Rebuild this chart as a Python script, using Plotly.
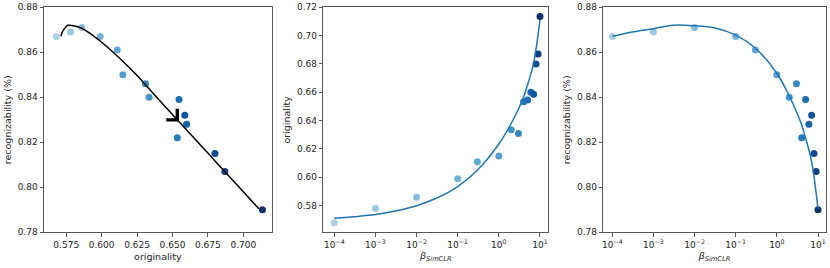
import plotly.graph_objects as go

# ---- data ----
beta = [1e-4, 1e-3, 1e-2, 0.1, 0.3, 1, 2, 3, 4, 5, 6, 7, 8, 9, 10]
originality = [0.568, 0.578, 0.586, 0.599, 0.611, 0.615, 0.6335, 0.631,
               0.6534, 0.6546, 0.660, 0.6587, 0.680, 0.687, 0.7135]
recognizability = [0.867, 0.869, 0.871, 0.867, 0.861, 0.850, 0.840, 0.846,
                   0.822, 0.839, 0.828, 0.832, 0.815, 0.807, 0.790]

# fitted curves (at these beta values)
beta_fit = [1e-4, 3e-4, 1e-3, 3e-3, 1e-2, 3e-2, 0.1, 0.3, 1, 2, 3, 4, 5, 6, 7, 8, 9, 10]
orig_fit = [0.5712, 0.5722, 0.5737, 0.5762, 0.5800, 0.5852, 0.5935, 0.6050, 0.6235,
            0.6380, 0.6482, 0.6566, 0.6654, 0.6730, 0.6805, 0.6903, 0.7008, 0.7110]
recog_fit = [0.8671, 0.8690, 0.8705, 0.8720, 0.8718, 0.8709, 0.8676, 0.8618, 0.8507,
             0.8406, 0.8336, 0.8278, 0.8218, 0.8166, 0.8114, 0.8047, 0.7975, 0.7905]

arrow_point = (0.6546, 0.8292)

x1_ticks = [0.575, 0.600, 0.625, 0.650, 0.675, 0.700]
x1_ticktext = ["0.575", "0.600", "0.625", "0.650", "0.675", "0.700"]
y_recog_ticks = [0.78, 0.80, 0.82, 0.84, 0.86, 0.88]
y_orig_ticks = [0.58, 0.60, 0.62, 0.64, 0.66, 0.68, 0.70, 0.72]
log_ticks = [1e-4, 1e-3, 1e-2, 1e-1, 1, 10]
log_ticktext = ["10<sup>\u22124</sup>", "10<sup>\u22123</sup>", "10<sup>\u22122</sup>",
                "10<sup>\u22121</sup>", "10<sup>0</sup>", "10<sup>1</sup>"]

# ---- styling ----
FONT = "DejaVu Sans"
TXT = "#262626"
SPINE = "#555555"
color_idx = list(range(len(beta)))
marker = dict(color=color_idx, colorscale="Blues", cmin=-7, cmax=len(beta) - 1,
              size=7, line=dict(width=0))

fig = go.Figure()

# left: recognizability vs originality
fig.add_trace(go.Scatter(x=originality, y=recognizability, mode="markers",
                         marker=marker, xaxis="x", yaxis="y", showlegend=False))
fig.add_trace(go.Scatter(x=orig_fit, y=recog_fit, mode="lines",
                         line=dict(color="black", width=1.5, shape="spline", smoothing=1.0),
                         xaxis="x", yaxis="y", showlegend=False))

# middle: originality vs beta
fig.add_trace(go.Scatter(x=beta, y=originality, mode="markers",
                         marker=marker, xaxis="x2", yaxis="y2", showlegend=False))
fig.add_trace(go.Scatter(x=beta_fit, y=orig_fit, mode="lines",
                         line=dict(color="#1f77b4", width=1.5, shape="spline", smoothing=1.0),
                         xaxis="x2", yaxis="y2", showlegend=False))

# right: recognizability vs beta
fig.add_trace(go.Scatter(x=beta, y=recognizability, mode="markers",
                         marker=marker, xaxis="x3", yaxis="y3", showlegend=False))
fig.add_trace(go.Scatter(x=beta_fit, y=recog_fit, mode="lines",
                         line=dict(color="#1f77b4", width=1.5, shape="spline", smoothing=1.0),
                         xaxis="x3", yaxis="y3", showlegend=False))

ydom = [(268 - 232.3) / 268, (268 - 7.3) / 268]
axis_common = dict(showline=True, linecolor=SPINE, linewidth=1, mirror=True,
                   ticks="outside", ticklen=3.5, tickwidth=1, tickcolor=SPINE,
                   showgrid=False, zeroline=False,
                   tickfont=dict(family=FONT, size=9, color=TXT),
                   title_font=dict(family=FONT, size=9.5, color=TXT))

beta_title = "<i>\u03b2</i><sub><i>SimCLR</i></sub>"

fig.update_layout(
    width=830, height=268,
    margin=dict(l=0, r=0, t=0, b=0),
    paper_bgcolor="white", plot_bgcolor="white",
    font=dict(family=FONT, size=9, color=TXT),
    xaxis=dict(domain=[44 / 830, 271.7 / 830], range=[0.5593, 0.72006],
               tickvals=x1_ticks, ticktext=x1_ticktext, anchor="y",
               title=dict(text="originality", standoff=4), automargin=False, **axis_common),
    yaxis=dict(domain=ydom, range=[0.78, 0.88], tickvals=y_recog_ticks,
               tickformat=".2f", anchor="x",
               title=dict(text="recognizability (%)", standoff=4), automargin=False, **axis_common),
    xaxis2=dict(domain=[323.3 / 830, 548.3 / 830], type="log", range=[-4.267, 1.202],
                tickvals=log_ticks, ticktext=log_ticktext, anchor="y2",
                title=dict(text=beta_title, standoff=2), automargin=False, **axis_common),
    yaxis2=dict(domain=ydom, range=[0.5612, 0.72], tickvals=y_orig_ticks,
                tickformat=".2f", anchor="x2",
                title=dict(text="originality", standoff=4), automargin=False, **axis_common),
    xaxis3=dict(domain=[603.3 / 830, 825.7 / 830], type="log", range=[-4.219, 1.187],
                tickvals=log_ticks, ticktext=log_ticktext, anchor="y3",
                title=dict(text=beta_title, standoff=2), automargin=False, **axis_common),
    yaxis3=dict(domain=ydom, range=[0.78, 0.88], tickvals=y_recog_ticks,
                tickformat=".2f", anchor="x3",
                title=dict(text="recognizability (%)", standoff=4), automargin=False, **axis_common),
    annotations=[dict(x=arrow_point[0], y=arrow_point[1], xref="x", yref="y",
                      text=" ", font=dict(size=2), width=8, height=8, borderpad=0,
                      showarrow=True, arrowhead=4, arrowsize=1.5, arrowwidth=2,
                      arrowcolor="black", ax=-8, ay=-8, standoff=0, startstandoff=0)],
)

fig.write_html("out.html", config={"displayModeBar": False},
               post_script="document.body.style.margin='0';document.body.style.overflow='hidden';")
